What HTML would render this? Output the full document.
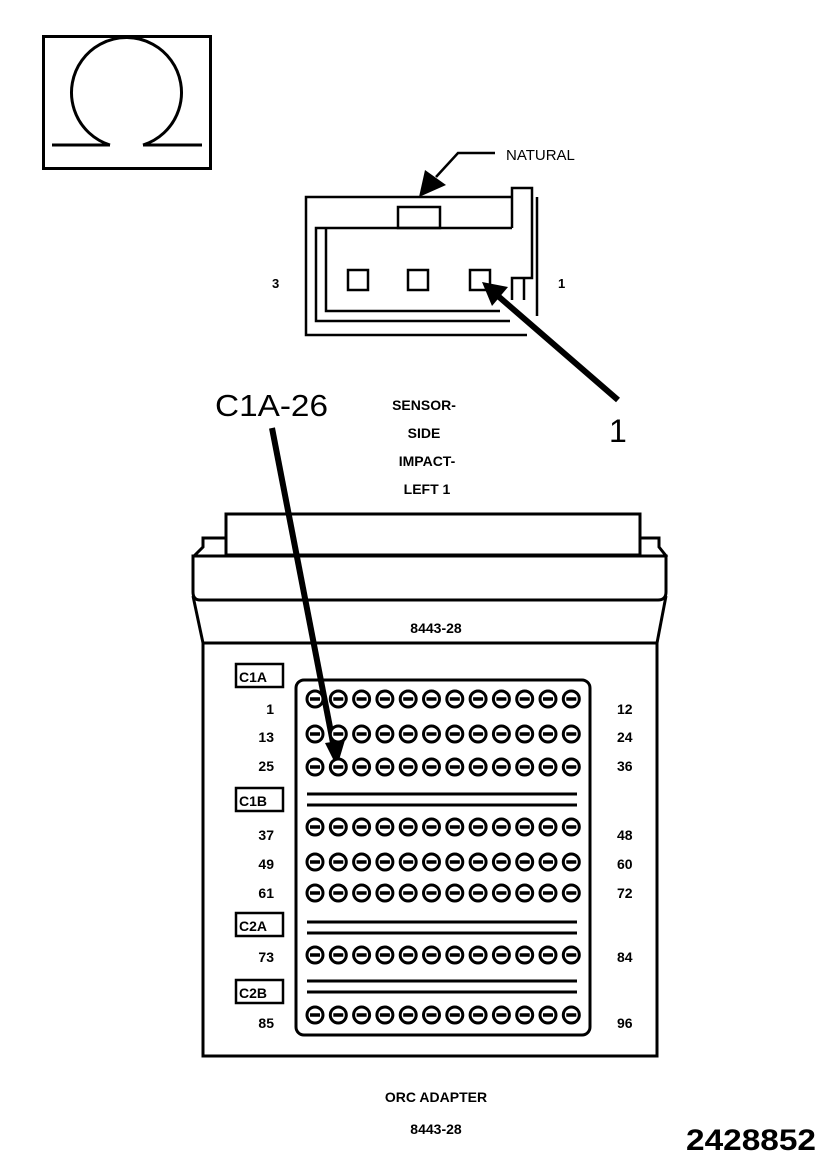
<!DOCTYPE html>
<html><head><meta charset="utf-8"><style>
html,body{margin:0;padding:0;background:#fff;}
svg{display:block;}
text{font-family:"Liberation Sans",Arial,sans-serif;fill:#000;}
.b{font-weight:bold;}
</style></head><body>
<svg width="833" height="1167" viewBox="0 0 833 1167" xmlns="http://www.w3.org/2000/svg">
<defs>
<g id="pin"><circle cx="0" cy="0" r="8" fill="#fff" stroke="#000" stroke-width="3"/><line x1="-5" y1="0" x2="5" y2="0" stroke="#000" stroke-width="3.5"/></g>
<g id="row">
<use href="#pin" x="315"/><use href="#pin" x="338.3"/><use href="#pin" x="361.6"/><use href="#pin" x="384.9"/><use href="#pin" x="408.2"/><use href="#pin" x="431.5"/><use href="#pin" x="454.8"/><use href="#pin" x="478.1"/><use href="#pin" x="501.4"/><use href="#pin" x="524.7"/><use href="#pin" x="548"/><use href="#pin" x="571.3"/>
</g>
<g id="sep"><line x1="307" y1="0" x2="577" y2="0" stroke="#000" stroke-width="3"/><line x1="307" y1="11" x2="577" y2="11" stroke="#000" stroke-width="3"/></g>
</defs>

<!-- Omega box -->
<rect x="43.5" y="36.5" width="167" height="132" fill="none" stroke="#000" stroke-width="3"/>
<path d="M110 145 A55 55 0 1 1 143 145" fill="none" stroke="#000" stroke-width="3"/>
<line x1="52" y1="145" x2="110" y2="145" stroke="#000" stroke-width="3"/>
<line x1="143" y1="145" x2="202" y2="145" stroke="#000" stroke-width="3"/>

<!-- sensor connector -->
<g fill="none" stroke="#000" stroke-width="2.5">
<polyline points="527,335 306,335 306,197 512,197"/>
<polyline points="510,321 316,321 316,228 512,228"/>
<polyline points="500,311 326,311 326,228"/>
<polyline points="512,228 512,188 532,188 532,278 512,278 512,300"/>
<line x1="524" y1="278" x2="524" y2="300"/>
<line x1="537" y1="197" x2="537" y2="316"/>
<rect x="398" y="207" width="42" height="21"/>
<rect x="348" y="270" width="20" height="20"/>
<rect x="408" y="270" width="20" height="20"/>
<rect x="470" y="270" width="20" height="20"/>
</g>
<text x="272" y="288" class="b" font-size="13">3</text>
<text x="558" y="288" class="b" font-size="13">1</text>

<!-- NATURAL leader -->
<polyline points="495,153 458,153 436,177" fill="none" stroke="#000" stroke-width="2.5"/>
<polygon points="419,197 425,170 446,185" fill="#000"/>
<text x="506" y="160" font-size="15">NATURAL</text>

<!-- arrow 1 -->
<line x1="618" y1="400" x2="498" y2="296" stroke="#000" stroke-width="6"/>
<polygon points="482,282 508,287 492,306" fill="#000"/>
<text x="609" y="442" font-size="32">1</text>

<!-- C1A-26 -->
<text x="215" y="416" font-size="31" textLength="113" lengthAdjust="spacingAndGlyphs">C1A-26</text>
<line x1="272" y1="428" x2="334" y2="748" stroke="#000" stroke-width="6"/>
<polygon points="337,767 325,743 345,740" fill="#000"/>

<g class="b" font-size="14" text-anchor="middle">
<text x="424" y="410">SENSOR-</text>
<text x="424" y="438">SIDE</text>
<text x="427" y="466">IMPACT-</text>
<text x="427" y="494">LEFT 1</text>
</g>

<!-- adapter -->
<g fill="none" stroke="#000" stroke-width="3">
<rect x="226" y="514" width="414" height="41"/>
<polyline points="226,538 203,538 203,547 193,557"/>
<polyline points="640,538 659,538 659,547 667,557"/>
<path d="M193 556 L666 556 L666 592 Q666 600 658 600 L200 600 Q193 600 193 592 Z"/>
<line x1="193" y1="596" x2="203" y2="643"/>
<line x1="666" y1="596" x2="657" y2="643"/>
<rect x="203" y="643" width="454" height="413"/>
<rect x="296" y="680" width="294" height="355" rx="8"/>
<rect x="236" y="664" width="47" height="23" stroke-width="2.5"/>
<rect x="236" y="788" width="47" height="23" stroke-width="2.5"/>
<rect x="236" y="913" width="47" height="23" stroke-width="2.5"/>
<rect x="236" y="980" width="47" height="23" stroke-width="2.5"/>
</g>
<text x="436" y="633" class="b" font-size="14" text-anchor="middle">8443-28</text>
<g font-size="14" class="b">
<text x="239" y="682">C1A</text>
<text x="239" y="806">C1B</text>
<text x="239" y="931">C2A</text>
<text x="239" y="998">C2B</text>
</g>

<use href="#row" y="699"/>
<use href="#row" y="734"/>
<use href="#row" y="767"/>
<use href="#sep" y="794"/>
<use href="#row" y="827"/>
<use href="#row" y="862"/>
<use href="#row" y="893"/>
<use href="#sep" y="922"/>
<use href="#row" y="955"/>
<use href="#sep" y="981"/>
<use href="#row" y="1015"/>

<g class="b" font-size="14" text-anchor="end">
<text x="274" y="714">1</text>
<text x="274" y="742">13</text>
<text x="274" y="771">25</text>
<text x="274" y="840">37</text>
<text x="274" y="869">49</text>
<text x="274" y="898">61</text>
<text x="274" y="962">73</text>
<text x="274" y="1028">85</text>
</g>
<g class="b" font-size="14">
<text x="617" y="714">12</text>
<text x="617" y="742">24</text>
<text x="617" y="771">36</text>
<text x="617" y="840">48</text>
<text x="617" y="869">60</text>
<text x="617" y="898">72</text>
<text x="617" y="962">84</text>
<text x="617" y="1028">96</text>
</g>

<g class="b" font-size="14" text-anchor="middle">
<text x="436" y="1102">ORC ADAPTER</text>
<text x="436" y="1134">8443-28</text>
</g>
<text x="686" y="1150" class="b" font-size="30" textLength="130" lengthAdjust="spacingAndGlyphs">2428852</text>
</svg>
</body></html>
